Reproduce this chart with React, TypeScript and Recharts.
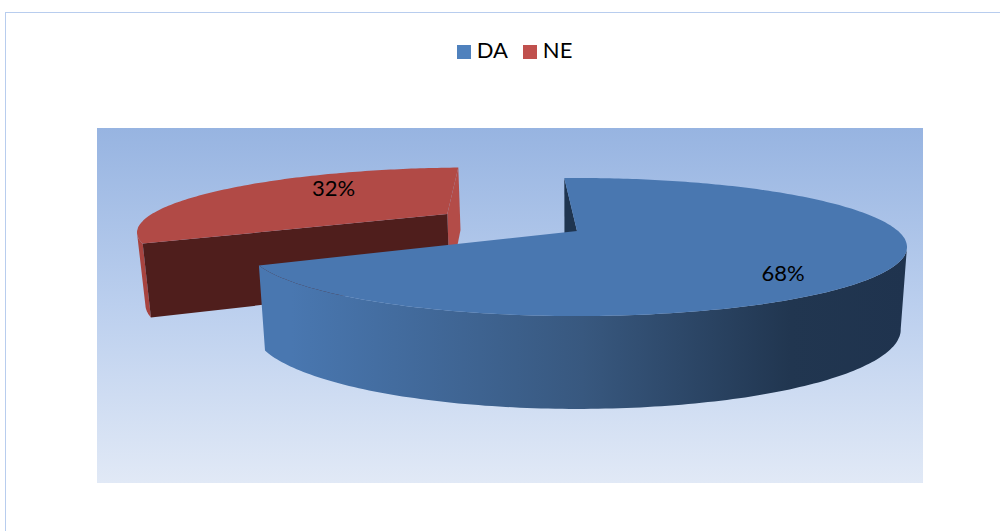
import { PieChart, Pie, Cell, Legend } from 'recharts';

// Values (drawing order: back slice first)
const names = ['NE', 'DA'];
const values = [32, 68];
const legendColors = ['#c0504d', '#4f81bd'];
const topColors = ['#b14a46', '#4977b0'];
const farWallColors = ['#b34c48', '#1f3550'];
const nearWallColors = ['#4f1e1c', ''];

const data = names.map((name, i) => ({ name, value: values[i] }));

// Fake 3D: a circle in a plane seen in perspective
const PERSPECTIVE = 0.232;
const TOP_RY = 65.3;
const BOTTOM_RX_RATIO = 0.981;
const BOTTOM_RY = 75.2;
const BOTTOM_DROP = 80;

const explode: Record<string, number> = { NE: 0.51, DA: 0 };
const sliceScale: Record<string, number> = { NE: 0.98, DA: 1 };
const bottomLift: Record<string, number> = { NE: 8, DA: 0 };
const labelSpot: Record<string, { r: number; a: number }> = {
    NE: { r: 0.7, a: 132 },
    DA: { r: 0.79, a: -45 },
};

const rad = (deg: number) => (deg * Math.PI) / 180;

function project(X: number, Y: number, cx: number, cy: number, r: number, bottom: boolean, lift = 0) {
    const w = 1 + PERSPECTIVE * Y;
    const rx = bottom ? r * BOTTOM_RX_RATIO : r;
    const ry = bottom ? BOTTOM_RY : TOP_RY;
    const y0 = bottom ? cy + BOTTOM_DROP - lift : cy;
    return [cx + (rx * X) / w, y0 - (ry * Y) / w];
}

function toPath(points: number[][]) {
    return 'M' + points.map((p) => `${p[0].toFixed(1)},${p[1].toFixed(1)}`).join('L') + 'Z';
}

function Slice3D(props: any) {
    const { cx, cy, outerRadius, startAngle, endAngle, midAngle } = props;
    const name = props.name ?? props.payload?.name;
    const i = names.indexOf(name);
    const e = explode[name] ?? 0;
    const k = sliceScale[name] ?? 1;
    const lift = bottomLift[name] ?? 0;
    const ox = e * Math.cos(rad(midAngle - 3));
    const oy = e * Math.sin(rad(midAngle - 3));

    const rim = (bottom: boolean) => {
        const pts: number[][] = [];
        const steps = Math.ceil(Math.abs(startAngle - endAngle));
        for (let s = 0; s <= steps; s++) {
            const a = rad(startAngle + ((endAngle - startAngle) * s) / steps);
            pts.push(project(ox + k * Math.cos(a), oy + k * Math.sin(a), cx, cy, outerRadius, bottom, lift));
        }
        return pts;
    };

    const topRim = rim(false);
    const bottomRim = rim(true);
    const topApex = project(ox, oy, cx, cy, outerRadius, false);
    const bottomApex = project(ox, oy, cx, cy, outerRadius, true, lift);
    const last = topRim.length - 1;

    const startWall = [topRim[0], topApex, bottomApex, bottomRim[0]];
    const endWall = [topRim[last], topApex, bottomApex, bottomRim[last]];
    // the wall further up the picture is further away, so it is painted first
    const startIsFar = topRim[0][1] < topRim[last][1];
    const farWall = startIsFar ? startWall : endWall;
    const nearWall = startIsFar ? endWall : startWall;

    // only the rim between the widest point and the near end faces the viewer
    let widest = 0;
    topRim.forEach((p, n) => {
        if (Math.abs(p[0] - topApex[0]) > Math.abs(topRim[widest][0] - topApex[0])) widest = n;
    });
    const from = startIsFar ? widest : 0;
    const to = startIsFar ? last : widest;
    const frontRim = [...topRim.slice(from, to + 1), ...bottomRim.slice(from, to + 1).reverse()];
    const gradId = `rim-${name}`;

    return (
        <g>
            <defs>
                <linearGradient id={gradId} x1="0" y1="0" x2="1" y2="0">
                    {name === 'DA' ? (
                        <>
                            <stop offset="0.05" stopColor="#4977b0" />
                            <stop offset="0.5" stopColor="#38587f" />
                            <stop offset="0.82" stopColor="#213650" />
                            <stop offset="1" stopColor="#1f334e" />
                        </>
                    ) : (
                        <stop offset="0" stopColor="#a84440" />
                    )}
                </linearGradient>
            </defs>
            <path d={toPath(farWall)} fill={farWallColors[i]} />
            <path d={toPath(frontRim)} fill={`url(#${gradId})`} />
            {nearWallColors[i] && <path d={toPath(nearWall)} fill={nearWallColors[i]} />}
            <path d={toPath([topApex, ...topRim])} fill={topColors[i]} />
        </g>
    );
}

function sliceLabel(props: any) {
    const { cx, cy, outerRadius, midAngle, percent } = props;
    const name = props.name ?? props.payload?.name;
    const e = explode[name] ?? 0;
    const spot = labelSpot[name];
    const X = e * Math.cos(rad(midAngle - 3)) + spot.r * Math.cos(rad(spot.a));
    const Y = e * Math.sin(rad(midAngle - 3)) + spot.r * Math.sin(rad(spot.a));
    const [x, y] = project(X, Y, cx, cy, outerRadius, false);
    return (
        <text x={x} y={y} textAnchor="middle" dominantBaseline="central" fontSize={22} fontFamily="Lato" fill="#000">
            {`${Math.round(percent * 100)}%`}
        </text>
    );
}

export default function App() {
    return (
        <div style={{ position: 'absolute', left: 0, top: 0, width: 1000, height: 531, overflow: 'hidden', background: '#fff' }}>
            <div
                style={{
                    position: 'absolute',
                    left: 5,
                    top: 12,
                    width: 1100,
                    height: 600,
                    border: '1.5px solid #b8cdee',
                }}
            />
            <div
                style={{
                    position: 'absolute',
                    left: 97,
                    top: 128,
                    width: 826,
                    height: 355,
                    background: 'linear-gradient(180deg, #97b4e1 0%, #bbcfee 50%, #e1e9f6 100%)',
                }}
            />
            <div style={{ position: 'absolute', left: 0, top: 0 }}>
                <PieChart width={1000} height={531} margin={{ top: 0, right: 0, bottom: 0, left: 0 }}>
                    <Legend
                        verticalAlign="top"
                        align="center"
                        iconType="square"
                        iconSize={14}
                        wrapperStyle={{ top: 36, left: 22, fontFamily: 'Lato', fontSize: 22 }}
                        formatter={(value: string) => (
                            <span style={{ color: '#000', marginLeft: 2, marginRight: 5 }}>{value}</span>
                        )}
                    />
                    {/* the legend height is added to cy by the chart */}
                    <Pie
                        data={data}
                        dataKey="value"
                        nameKey="name"
                        cx={577}
                        cy={204}
                        outerRadius={321}
                        startAngle={208}
                        endAngle={-152}
                        stroke="none"
                        shape={Slice3D}
                        label={sliceLabel}
                        labelLine={false}
                        isAnimationActive={false}
                    >
                        {names.map((name, i) => (
                            <Cell key={name} fill={legendColors[i]} />
                        ))}
                    </Pie>
                </PieChart>
            </div>
        </div>
    );
}
